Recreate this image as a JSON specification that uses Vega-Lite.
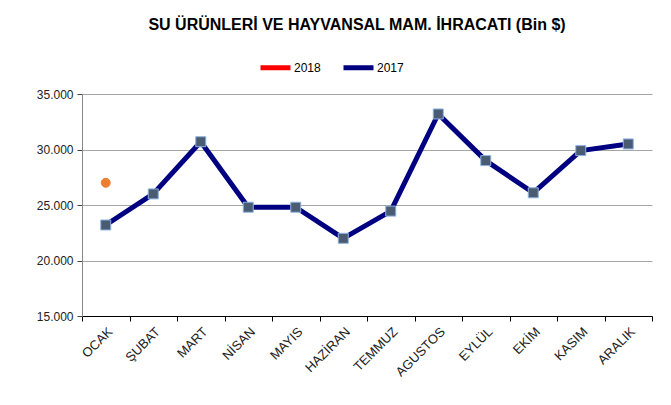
{
  "$schema": "https://vega.github.io/schema/vega-lite/v6.json",
  "width": 570,
  "height": 222,
  "autosize": {"type": "none"},
  "padding": {"left": 82, "top": 94, "right": 19, "bottom": 89},
  "background": "white",
  "title": {
    "text": "SU ÜRÜNLERİ VE HAYVANSAL  MAM. İHRACATI (Bin $)",
    "font": "Liberation Sans",
    "fontSize": 16,
    "fontWeight": "bold",
    "color": "#000000",
    "anchor": "middle",
    "frame": "group",
    "dx": -10,
    "offset": 17
  },
  "data": {
    "values": [
      {"month": "OCAK", "year": "2018", "value": 27000},
      {"month": "OCAK", "year": "2017", "value": 23200},
      {"month": "ŞUBAT", "year": "2017", "value": 26000},
      {"month": "MART", "year": "2017", "value": 30700},
      {"month": "NİSAN", "year": "2017", "value": 24800},
      {"month": "MAYIS", "year": "2017", "value": 24800},
      {"month": "HAZİRAN", "year": "2017", "value": 22000},
      {"month": "TEMMUZ", "year": "2017", "value": 24450},
      {"month": "AGUSTOS", "year": "2017", "value": 33200},
      {"month": "EYLÜL", "year": "2017", "value": 29000},
      {"month": "EKİM", "year": "2017", "value": 26100},
      {"month": "KASIM", "year": "2017", "value": 29900},
      {"month": "ARALIK", "year": "2017", "value": 30500}
    ]
  },
  "encoding": {
    "x": {
      "field": "month",
      "type": "nominal",
      "sort": ["OCAK", "ŞUBAT", "MART", "NİSAN", "MAYIS", "HAZİRAN", "TEMMUZ", "AGUSTOS", "EYLÜL", "EKİM", "KASIM", "ARALIK"],
      "scale": {"type": "band", "paddingInner": 0, "paddingOuter": 0},
      "axis": {
        "title": null,
        "labelAngle": -45,
        "labelFont": "Liberation Sans",
        "labelFontSize": 13,
        "labelColor": "#222222",
        "domainColor": "#000000",
        "tickColor": "#000000",
        "tickSize": 5,
        "tickBand": "extent",
        "grid": false,
        "labelPadding": 4
      }
    },
    "y": {
      "field": "value",
      "type": "quantitative",
      "scale": {"domain": [15000, 35000], "nice": false, "zero": false},
      "axis": {
        "title": null,
        "values": [15000, 20000, 25000, 30000, 35000],
        "labelExpr": "replace(format(datum.value, ','), ',', '.')",
        "labelFont": "Liberation Sans",
        "labelFontSize": 12,
        "labelColor": "#222222",
        "domainColor": "#888888",
        "tickColor": "#444444",
        "tickSize": 5,
        "labelPadding": 4,
        "grid": true,
        "gridColor": "#A6A6A6",
        "gridWidth": 1
      }
    }
  },
  "layer": [
    {
      "mark": {"type": "line", "strokeWidth": 5, "strokeJoin": "round"},
      "encoding": {
        "color": {
          "field": "year",
          "type": "nominal",
          "scale": {"domain": ["2018", "2017"], "range": ["#FF0000", "#000080"]},
          "legend": {
            "title": null,
            "orient": "none",
            "direction": "horizontal",
            "legendX": 176,
            "legendY": -44,
            "symbolType": "stroke",
            "symbolStrokeWidth": 5,
            "symbolSize": 900,
            "symbolOpacity": 1,
            "labelFont": "Liberation Sans",
            "labelFontSize": 12,
            "labelColor": "#000000",
            "columnPadding": 12,
            "labelOffset": 1
          }
        }
      }
    },
    {
      "mark": {"type": "point", "filled": true, "opacity": 1, "strokeWidth": 1},
      "encoding": {
        "shape": {"condition": {"test": "datum.year == '2018'", "value": "circle"}, "value": "square"},
        "fill": {"condition": {"test": "datum.year == '2018'", "value": "#ED7D31"}, "value": "#4A5B72"},
        "stroke": {"condition": {"test": "datum.year == '2018'", "value": "#ED7D31"}, "value": "#8DB4E2"},
        "size": {"condition": {"test": "datum.year == '2018'", "value": 80}, "value": 100}
      }
    }
  ],
  "config": {
    "view": {"stroke": null}
  }
}
